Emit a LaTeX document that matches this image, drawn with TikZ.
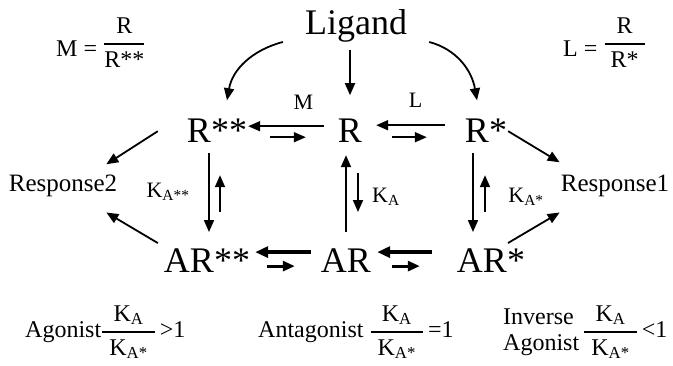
\documentclass[tikz,border=0pt]{standalone}
\usepackage{amsmath}
\usepackage{fontspec}
\setmainfont{Liberation Serif}
\usetikzlibrary{arrows.meta}

\newcommand{\thickfrac}[2]{\genfrac{}{}{1.6pt}{0}{#1}{#2}}
\newcommand{\kratio}{\thickfrac{\text{K\textsubscript{A}}}{\;\text{K\textsubscript{A*}}\;}}

\begin{document}
\begin{tikzpicture}[
  x=1pt, y=1pt,
  big/.style={inner sep=0pt, anchor=base, font=\fontsize{36}{40}\selectfont},
  resp/.style={inner sep=0pt, anchor=base, font=\fontsize{25}{29}\selectfont},
  lbl/.style={inner sep=0pt, font=\fontsize{22}{26}\selectfont},
  eq/.style={inner sep=0pt, anchor=base west, font=\fontsize{24}{28}\selectfont},
  arr/.style={-{Triangle[length=12pt,width=10pt]}, line width=1.8pt},
  fwd/.style={-{Triangle[length=13pt,width=11pt]}, line width=3.6pt},
  bck/.style={-{Triangle[length=12pt,width=10pt]}, line width=2.8pt}
]
\useasboundingbox (0,0) rectangle (673,-366);

\node[big] (lig) at (356,-35) {Ligand};

\node[big] (Rss) at (217,-143) {R**};
\node[big] (R) at (350,-143) {R};
\node[big] (Rs) at (486,-143) {R*};

\node[big] (ARss) at (207,-273) {AR**};
\node[big] (AR) at (346,-273) {AR};
\node[big] (ARs) at (491,-273) {AR*};

\node[resp] (resp2) at (63,-192) {Response2};
\node[resp] (resp1) at (615,-192) {Response1};

\node[eq] (defM) at (56,-57) {M = \raisebox{7pt}{$\thickfrac{\makebox[40pt]{R}}{\makebox[40pt]{R**}}$}};
\node[eq] (defL) at (563,-57) {L = \raisebox{7pt}{$\thickfrac{\makebox[40pt]{R}}{\makebox[40pt]{R*}}$}};

\node[lbl] (kass) at (168,-192) {K\textsubscript{A**}};
\node[lbl] (ka) at (386,-197) {K\textsubscript{A}};
\node[lbl] (kas) at (526,-197) {K\textsubscript{A*}};

\node[eq] (ago) at (25,-338) {Agonist$\kratio$\,{>}1};
\node[eq] (anta) at (258,-338) {Antagonist $\kratio$\,=1};
\node[eq] (inv) at (503,-338) {\begin{tabular}{@{}l@{}}Inverse\\[-2pt]Agonist\end{tabular}\,$\kratio$\,{<}1};

\draw[arr] ([shift={(-22pt,1pt)}]lig.south west) to[out=195, in=80] ([shift={(10pt,19pt)}]Rss.north);
\draw[arr] ([yshift=-7pt]lig.south -| R.north) -- ([yshift=24pt]R.north);
\draw[arr] ([shift={(22pt,1pt)}]lig.south east) to[out=-15, in=100] ([shift={(-9pt,19pt)}]Rs.north);

\draw[arr, shorten <=14pt, shorten >=1pt] ([yshift=5pt]R.west) -- node[lbl, pos=0.38, above=16pt] (lm) {M} ([yshift=5pt]Rss.east);
\draw[arr, shorten <=23pt, shorten >=32pt] ([yshift=-6pt]Rss.east) -- ([yshift=-6pt]R.west);
\draw[arr, shorten <=20pt, shorten >=14pt] ([yshift=6pt]Rs.west) -- node[lbl, pos=0.48, above=17pt] (ll) {L} ([yshift=6pt]R.east);
\draw[arr, shorten <=30pt, shorten >=38pt] ([yshift=-6pt]R.east) -- ([yshift=-6pt]Rs.west);

\draw[arr] ([shift={(-8pt,-10pt)}]Rss.south) -- ([shift={(2pt,17pt)}]ARss.north);
\draw[arr] ([shift={(13pt,37pt)}]ARss.north) -- ([shift={(3pt,-32pt)}]Rss.south);
\draw[arr] ([shift={(0pt,17pt)}]AR.north) -- ([shift={(-4pt,-12pt)}]R.south);
\draw[arr] ([shift={(8pt,-30pt)}]R.south) -- ([shift={(12pt,37pt)}]AR.north);
\draw[arr] ([shift={(-13pt,-10pt)}]Rs.south) -- ([shift={(-18pt,17pt)}]ARs.north);
\draw[arr] ([shift={(-6pt,37pt)}]ARs.north) -- ([shift={(-1pt,-32pt)}]Rs.south);

\draw[fwd, shorten <=10pt, shorten >=5pt] ([yshift=9pt]AR.west) -- ([yshift=9pt]ARss.east);
\draw[bck, shorten <=17pt, shorten >=26pt] ([yshift=-5pt]ARss.east) -- ([yshift=-5pt]AR.west);
\draw[fwd, shorten <=25pt, shorten >=6pt] ([yshift=9pt]ARs.west) -- ([yshift=9pt]AR.east);
\draw[bck, shorten <=21pt, shorten >=37pt] ([yshift=-5pt]AR.east) -- ([yshift=-5pt]ARs.west);

\draw[arr] ([xshift=-29pt]Rss.west) -- ([shift={(-11pt,11pt)}]resp2.north east);
\draw[arr] ([shift={(-6pt,6pt)}]ARss.north west) -- ([shift={(-11pt,-15pt)}]resp2.south east);
\draw[arr] ([xshift=1pt]Rs.east) -- ([shift={(-1pt,13pt)}]resp1.north west);
\draw[arr] ([shift={(17pt,6pt)}]ARs.north) -- ([shift={(-1pt,-15pt)}]resp1.south west);

\end{tikzpicture}
\end{document}
